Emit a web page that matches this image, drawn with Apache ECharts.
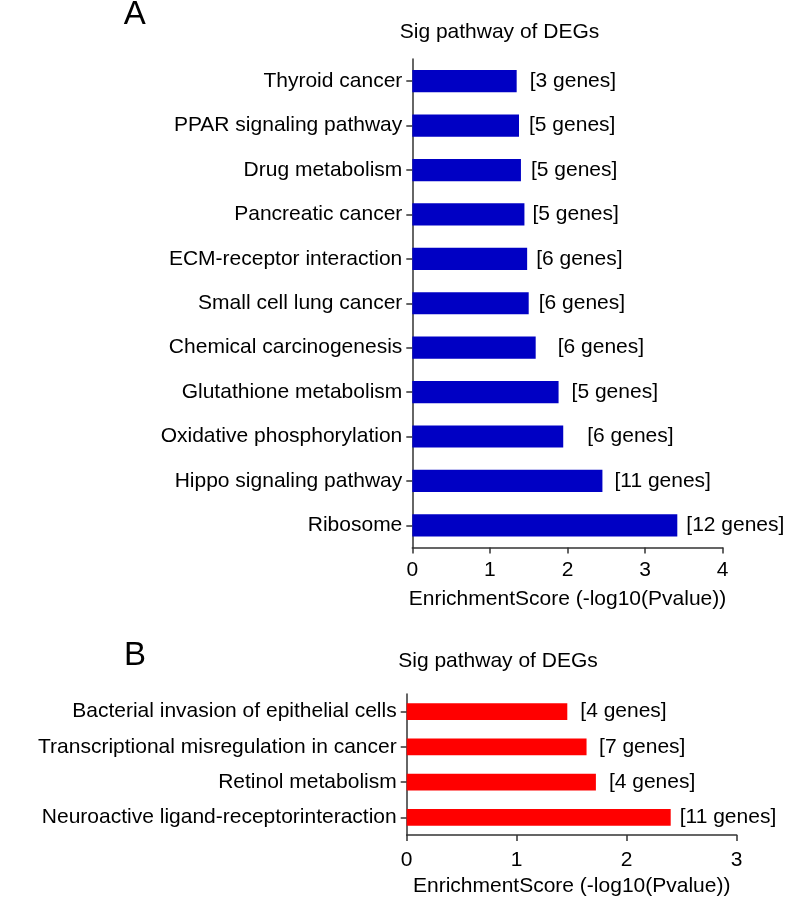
<!DOCTYPE html>
<html>
<head>
<meta charset="utf-8">
<script src="https://cdn.jsdelivr.net/npm/echarts@6/dist/echarts.min.js"></script>
<style>
html,body{margin:0;padding:0;background:#fff;}
#chart{width:787px;height:902px;}
</style>
</head>
<body>
<div id="chart"></div>
<script>
// ---- Data (top-to-bottom order as displayed) ----
const pathwaysA = ["Thyroid cancer","PPAR signaling pathway","Drug metabolism","Pancreatic cancer","ECM-receptor interaction","Small cell lung cancer","Chemical carcinogenesis","Glutathione metabolism","Oxidative phosphorylation","Hippo signaling pathway","Ribosome"];
const scoresA = [1.345, 1.375, 1.40, 1.445, 1.48, 1.50, 1.59, 1.885, 1.945, 2.45, 3.415];
const genesA = [3, 5, 5, 5, 6, 6, 6, 5, 6, 11, 12];

const pathwaysB = ["Bacterial invasion of epithelial cells","Transcriptional misregulation in cancer","Retinol metabolism","Neuroactive ligand-receptorinteraction"];
const scoresB = [1.46, 1.635, 1.72, 2.40];
const genesB = [4, 7, 4, 11];

const ticksA = [0, 1, 2, 3, 4];
const ticksB = [0, 1, 2, 3];
const panelTitle = "Sig pathway of DEGs";
const axisTitle = "EnrichmentScore (-log10(Pvalue))";

// ---- Styling / layout ----
const FONT = "Liberation Sans, Arial, sans-serif";
const FS = 21;
const AXC = "#333";
// gap (px) between bar end and its gene-count label, as drawn in the reference
const labelGapA = [13, 10, 10, 8, 9, 10, 22, 13, 24, 12, 9];
const labelGapB = [13, 12.5, 13, 9];

function xAxisCfg(gridIndex, ticks, labelMargin) {
  return {
    type: 'value', gridIndex: gridIndex,
    min: ticks[0], max: ticks[ticks.length - 1], interval: 1,
    name: axisTitle, nameLocation: 'middle', nameGap: 41,
    nameTextStyle: {fontFamily: FONT, fontSize: FS, color: '#000'},
    axisLine: {show: true, lineStyle: {color: AXC, width: 1.5}},
    axisTick: {show: true, length: 6, lineStyle: {color: AXC, width: 1.5}},
    axisLabel: {fontFamily: FONT, fontSize: FS, color: '#000', margin: labelMargin},
    splitLine: {show: false}
  };
}
function yAxisCfg(gridIndex, cats) {
  return {
    type: 'category', gridIndex: gridIndex, data: cats, inverse: true,
    axisLine: {show: true, lineStyle: {color: AXC, width: 1.5}},
    axisTick: {show: true, length: 6, alignWithLabel: true, lineStyle: {color: AXC, width: 1.5}},
    axisLabel: {fontFamily: FONT, fontSize: FS, color: '#000', margin: 10},
    splitLine: {show: false}
  };
}
function barSeries(idx, scores, genes, gaps, color, bw) {
  return {
    type: 'bar', xAxisIndex: idx, yAxisIndex: idx,
    data: scores.map((v, i) => ({value: v, label: {distance: gaps[i]}})),
    barWidth: bw,
    itemStyle: {color: color},
    label: {
      show: true, position: 'right',
      fontFamily: FONT, fontSize: FS, color: '#000',
      formatter: p => '[' + genes[p.dataIndex] + ' genes]'
    },
    animation: false
  };
}
function txt(x, y, s, size) {
  return {type: 'text', x: x, y: y, silent: true,
    style: {text: s, font: size + 'px ' + FONT, fill: '#000', align: 'center', verticalAlign: 'middle'}};
}

const chart = echarts.init(document.getElementById('chart'), null, {renderer: 'canvas'});
chart.setOption({
  backgroundColor: '#fff',
  animation: false,
  graphic: [
    txt(134.7, 15, 'A', 33),
    txt(499.5, 32.5, panelTitle, FS),
    txt(135, 656, 'B', 33),
    txt(498, 661.5, panelTitle, FS)
  ],
  grid: [
    {left: 412.3, top: 59, width: 310.4, height: 488.5, containLabel: false},
    {left: 406.7, top: 694, width: 330, height: 141, containLabel: false}
  ],
  xAxis: [xAxisCfg(0, ticksA, 12), xAxisCfg(1, ticksB, 15)],
  yAxis: [yAxisCfg(0, pathwaysA), yAxisCfg(1, pathwaysB)],
  series: [
    barSeries(0, scoresA, genesA, labelGapA, '#0000C4', '50%'),
    barSeries(1, scoresB, genesB, labelGapB, '#FF0000', '47%')
  ]
});
</script>
</body>
</html>
